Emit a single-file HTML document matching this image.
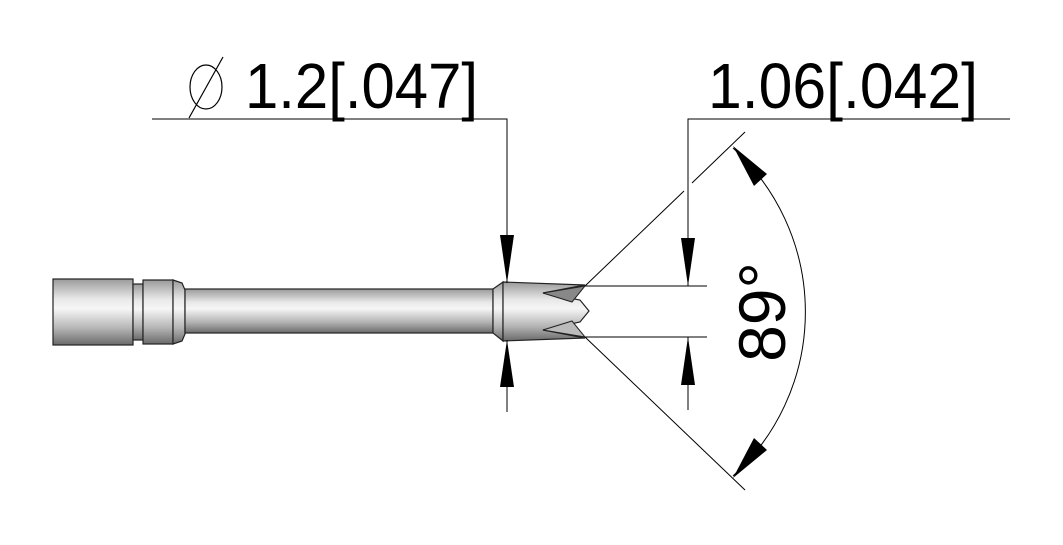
<!DOCTYPE html>
<html><head><style>body{margin:0;background:#fff}svg{display:block}</style></head><body>
<svg width="1063" height="545" viewBox="0 0 1063 545" xmlns="http://www.w3.org/2000/svg">
<defs>
<linearGradient id="g" x1="0" y1="0" x2="0" y2="1">
<stop offset="0" stop-color="#9a9a9a"/><stop offset="0.3" stop-color="#e8e8e8"/><stop offset="0.45" stop-color="#f6f6f6"/><stop offset="0.75" stop-color="#b4b4b4"/><stop offset="1" stop-color="#6a6a6a"/>
</linearGradient>
</defs>
<g stroke="#222" stroke-width="1.2" fill="url(#g)">
<rect x="53" y="279" width="80" height="66"/>
<rect x="133" y="284" width="10" height="56"/>
<rect x="143" y="280" width="30" height="64"/>
<path d="M173 280 L182 283 L185 290 L185 334 L182 341 L173 344 Z"/>
<rect x="185" y="289" width="308" height="44"/>
<path d="M493 289 L503 282 L503 341 L493 333 Z"/>
<path d="M503 282 L585 285 L543 293 L580 300 L589 311 L580 322 L543 330 L585 338 L503 341 Z"/>
</g>
<path d="M543 293 L585 286 L572 302 Z" fill="#888" stroke="#222"/>
<path d="M543 330 L585 337 L572 321 Z" fill="#bbb" stroke="#222"/>
<g stroke="#000" stroke-width="1" fill="none">
<polyline points="152,119 507,119 507,283"/>
<line x1="507" y1="340" x2="507" y2="412"/>
<polyline points="1010,119 688,119 688,286"/>
<line x1="688" y1="337" x2="688" y2="410"/>
<line x1="585" y1="286" x2="707" y2="286"/>
<line x1="585" y1="337" x2="707" y2="337"/>
<line x1="585" y1="286" x2="684" y2="191"/>
<line x1="692" y1="183" x2="745" y2="132"/>
<line x1="585" y1="337" x2="745" y2="490"/>
<path d="M733 148 A222 222 0 0 1 733 476"/>
</g>
<g fill="#000">
<polygon points="507,283 500,235 514,235"/>
<polygon points="507,340 500,387 514,387"/>
<polygon points="688,286 681,238 695,238"/>
<polygon points="688,337 681,385 695,385"/>
<polygon points="733,146 767,174 754,186"/>
<polygon points="733,478 767,450 754,438"/>
</g>
<ellipse cx="206" cy="87" rx="16" ry="22" fill="none" stroke="#000" stroke-width="1.2"/>
<line x1="189" y1="118" x2="223" y2="57" stroke="#000" stroke-width="1.2"/>
<g font-family="Liberation Sans, sans-serif" font-size="64" fill="#000">
<text x="245" y="108" textLength="233" lengthAdjust="spacingAndGlyphs">1.2[.047]</text>
<text x="708" y="108" textLength="270" lengthAdjust="spacingAndGlyphs">1.06[.042]</text>
<text transform="translate(785,312) rotate(-90)" text-anchor="middle" font-size="66">89°</text>
</g>
</svg>
</body></html>
